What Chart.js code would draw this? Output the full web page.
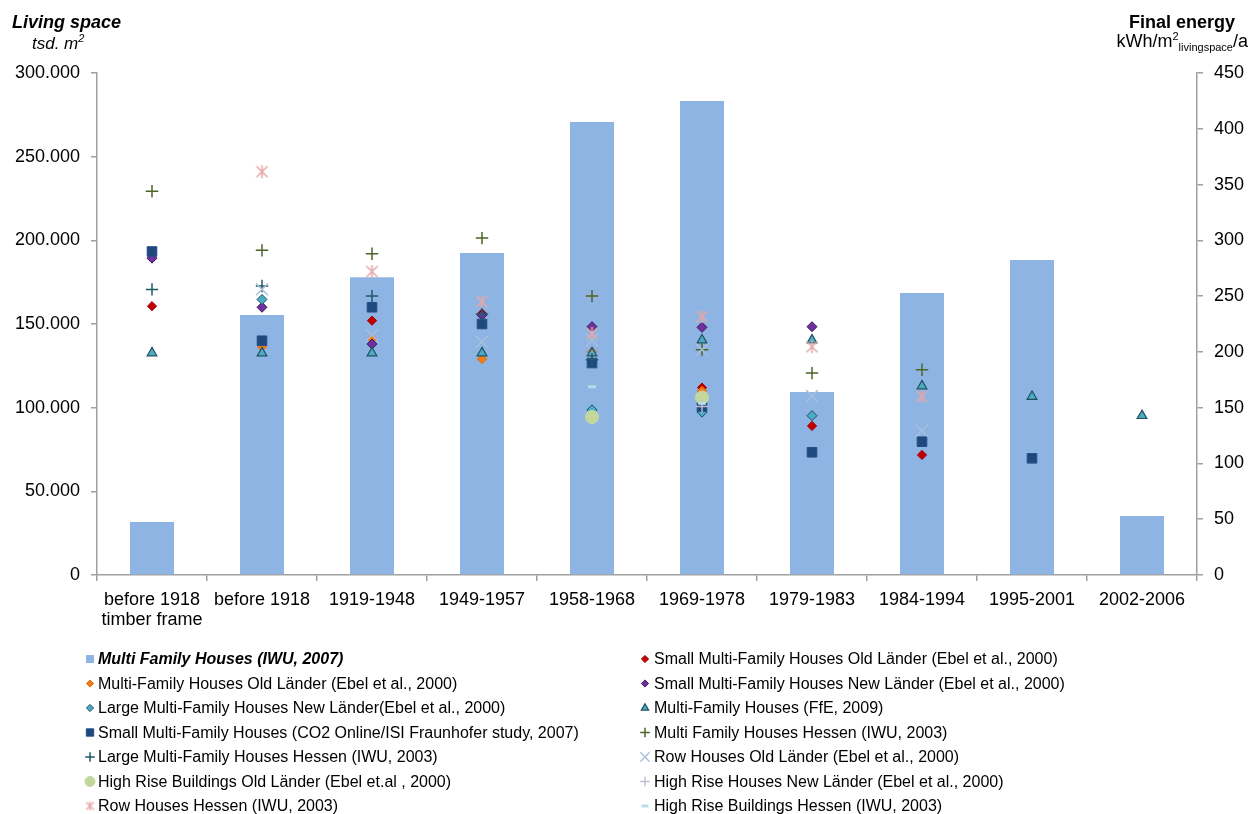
<!DOCTYPE html>
<html><head><meta charset="utf-8">
<script src="https://cdn.jsdelivr.net/npm/chart.js@4"></script>
<style>html,body{margin:0;padding:0;background:#fff}canvas{display:block}</style>
</head><body>
<canvas id="c" width="1250" height="814"></canvas>
<script>
// ---------- data ----------
const categories = [['before 1918','timber frame'],'before 1918','1919-1948','1949-1957','1958-1968','1969-1978','1979-1983','1984-1994','1995-2001','2002-2006'];
const livingSpace      = [31700,155400,178000,192400,270700,283300,109400,168500,188200,35300];
const smallMfhOld      = [241,null,228,234.5,null,168,133.6,107.6,null,null];
const mfhOld           = [null,204.6,211.5,193.6,200,165,null,null,null,null];
const smallMfhNew      = [284,240,207,233,222.6,222,222.6,null,null,null];
const largeMfhNew      = [null,247,null,null,148,146,142.8,null,null,null];
const mfhFfE           = [199,199,199,199,199,210.6,210.6,169.4,160,142.8];
const smallMfhCO2      = [290,210,240,225,190,151,110,119.5,104.6,null];
const mfhHessen        = [344,291,288,302,250,202,181,184,null,null];
const largeMfhHessen   = [256,259,250,234,193,null,null,null,null,null];
const rowOld           = [null,256,215,209,210.6,202,160.5,129.4,null,null];
const highRiseOld      = [null,null,null,null,141.6,159,null,null,null,null];
const highRiseNew      = [null,null,null,null,null,151,null,null,null,null];
const rowHessen        = [null,361.5,272,245,216.6,231.5,204.6,160,null,null];
const highRiseHessen   = [null,null,null,null,168.8,154,null,null,null,null];
const leftTickMax = 300000, leftTickStep = 50000;
const rightTickMax = 450, rightTickStep = 50;

const F = "'Liberation Sans', Arial, sans-serif";

function makeAsterisk(size, color, lw){
  const c=document.createElement('canvas'); c.width=c.height=size;
  const g=c.getContext('2d'); g.strokeStyle=color; g.lineWidth=lw; g.lineCap='butt';
  const m=size/2, r=size/2-1;
  g.beginPath();
  g.moveTo(m-r*0.85,m-r*0.85); g.lineTo(m+r*0.85,m+r*0.85);
  g.moveTo(m+r*0.85,m-r*0.85); g.lineTo(m-r*0.85,m+r*0.85);
  g.moveTo(m,m-r); g.lineTo(m,m+r);
  g.stroke();
  return c;
}
const asteriskBig = makeAsterisk(15,'#E3A9A8',1.6);
const asteriskSmall = makeAsterisk(11,'#E3A9A8',1.3);

function pts(label, data, style, bg, border, radius, bw, legendRadius, legendStyle){
  return {type:'line', label, data, yAxisID:'y1', showLine:false,
    pointStyle:style, pointRadius:radius, pointHoverRadius:radius,
    pointBackgroundColor:bg, pointBorderColor:border, pointBorderWidth:bw,
    backgroundColor:bg, borderColor:border,
    _legendRadius:legendRadius, _legendStyle:legendStyle||style};
}

const datasets = [
  {type:'bar', label:'Multi Family Houses (IWU, 2007)', data:livingSpace, yAxisID:'y',
   backgroundColor:'#8EB4E3', borderWidth:0, barPercentage:0.4, categoryPercentage:1.0,
   _legendStyle:'rect', _legendRadius:5},
  pts('Small Multi-Family Houses Old Länder (Ebel et al., 2000)', smallMfhOld, 'rectRot','#C00000','#A50000',4.6,1,3.6),
  pts('Multi-Family Houses Old Länder (Ebel et al., 2000)', mfhOld, 'rectRot','#F07C14','#E46C0A',4.6,1,3.6),
  pts('Small Multi-Family Houses New Länder (Ebel et al., 2000)', smallMfhNew, 'rectRot','#7030A0','#3A1858',5,1,3.6),
  pts('Large Multi-Family Houses New Länder(Ebel et al., 2000)', largeMfhNew, 'rectRot','#4BACC6','#1F4E5E',5,1,3.6),
  pts('Multi-Family Houses (FfE, 2009)', mfhFfE, 'triangle','#4BACC6','#1F4E5E',5.6,1.2,4.2),
  pts('Small Multi-Family Houses (CO2 Online/ISI Fraunhofer study, 2007)', smallMfhCO2, 'rect','#1F497D','#244F86',6.8,1,5.2),
  pts('Multi Family Houses Hessen (IWU, 2003)', mfhHessen, 'cross','#4F6228','#4F6228',6.2,1.5,4.8),
  pts('Large Multi-Family Houses Hessen (IWU, 2003)', largeMfhHessen, 'cross','#215968','#215968',6.2,1.5,4.8),
  pts('Row Houses Old Länder (Ebel et al., 2000)', rowOld, 'crossRot','#A9BFDC','#A9BFDC',8.4,1.4,6.6),
  pts('High Rise Buildings Old Länder (Ebel et.al , 2000)', highRiseOld, 'circle','#C3D69B','#C3D69B',6.6,1,5),
  pts('High Rise Houses New Länder (Ebel et al., 2000)', highRiseNew, 'cross','#C5B9D6','#C5B9D6',6.2,1.4,4.8),
  pts('Row Houses Hessen (IWU, 2003)', rowHessen, asteriskBig,'#E3A9A8','#E3A9A8',7,1.4,5, asteriskSmall),
  pts('High Rise Buildings Hessen (IWU, 2003)', highRiseHessen, 'line','#B7DEE8','#B7DEE8',3.8,3,3.5)
];
// later series drawn on top (like the original)
datasets.forEach((d,i)=>{ d.order = datasets.length - i; });

const extras = {
  id:'extras',
  afterDraw(chart){
    const ctx = chart.ctx;
    ctx.save();
    ctx.fillStyle = '#000'; ctx.textBaseline='alphabetic';
    // left axis title
    ctx.textAlign='left';
    ctx.font = `italic bold 18px ${F}`;
    ctx.fillText('Living space', 12, 28);
    ctx.font = `italic 17px ${F}`;
    ctx.fillText('tsd. m', 32, 49);
    let w = ctx.measureText('tsd. m').width;
    ctx.font = `italic 11px ${F}`;
    ctx.fillText('2', 32+w, 42);
    // right axis title
    ctx.textAlign='right';
    ctx.font = `bold 18px ${F}`;
    ctx.fillText('Final energy', 1235, 28);
    ctx.textAlign='left';
    const parts = [['kWh/m',`18px ${F}`,0],['2',`11px ${F}`,-7],['livingspace',`11px ${F}`,4],['/a',`18px ${F}`,0]];
    let tot=0; parts.forEach(p=>{ctx.font=p[1]; tot+=ctx.measureText(p[0]).width;});
    let x = 1248 - tot;
    parts.forEach(p=>{ctx.font=p[1]; ctx.fillText(p[0], x, 47+p[2]); x+=ctx.measureText(p[0]).width;});
    // legend (two columns)
    const colMarker=[90,645], colText=[98,654];
    const y0=659, dy=24.5;
    chart.data.datasets.forEach((d,i)=>{
      const col=i%2, row=Math.floor(i/2);
      const y=y0+row*dy, mx=colMarker[col];
      ctx.save();
      if(d.type==='bar'){
        ctx.fillStyle=d.backgroundColor; ctx.fillRect(mx-4,y-4,8,8);
      } else {
        ctx.fillStyle=d.pointBackgroundColor; ctx.strokeStyle=d.pointBorderColor;
        ctx.lineWidth=d.pointBorderWidth;
        Chart.helpers.drawPoint(ctx,{pointStyle:d._legendStyle,radius:d._legendRadius,borderWidth:d.pointBorderWidth,rotation:0},mx,y);
      }
      ctx.restore();
      ctx.fillStyle='#000'; ctx.textAlign='left'; ctx.textBaseline='middle';
      ctx.font = (d.type==='bar'? `italic bold 16px ${F}` : `16px ${F}`);
      ctx.fillText(d.label, colText[col], y+1);
    });
    ctx.restore();
  }
};

const axisColor = '#A0A0A0';
new Chart(document.getElementById('c'), {
  data:{labels:categories, datasets},
  options:{
    responsive:false, animation:false, devicePixelRatio:1, events:[],
    layout:{padding:{top:73,left:0,right:0,bottom:0}},
    plugins:{legend:{display:false}, tooltip:{enabled:false}, title:{display:false}},
    scales:{
      x:{offset:true,
        grid:{display:true, drawOnChartArea:false, drawTicks:true, tickLength:6, color:axisColor, lineWidth:1.5, offset:true},
        border:{display:true, color:axisColor, width:1.5},
        ticks:{color:'#000', font:{family:F, size:18, lineHeight:1.12}, padding:9, maxRotation:0, minRotation:0, autoSkip:false},
        afterFit(s){ s.height = 239; }
      },
      y:{position:'left', min:0, max:leftTickMax,
        ticks:{stepSize:leftTickStep, color:'#000', font:{family:F,size:18}, padding:11,
          callback:v=> v===0 ? '0' : (v/1000).toFixed(0)+'.000'},
        grid:{display:true, drawOnChartArea:false, tickLength:6, color:axisColor, lineWidth:1.5},
        border:{display:true, color:axisColor, width:1.5},
        afterFit(s){ s.width = 97; }
      },
      y1:{position:'right', min:0, max:rightTickMax,
        ticks:{stepSize:rightTickStep, color:'#000', font:{family:F,size:18}, padding:11},
        grid:{display:true, drawOnChartArea:false, tickLength:6, color:axisColor, lineWidth:1.5},
        border:{display:true, color:axisColor, width:1.5},
        afterFit(s){ s.width = 53; }
      }
    }
  },
  plugins:[extras]
});
</script>
</body></html>
